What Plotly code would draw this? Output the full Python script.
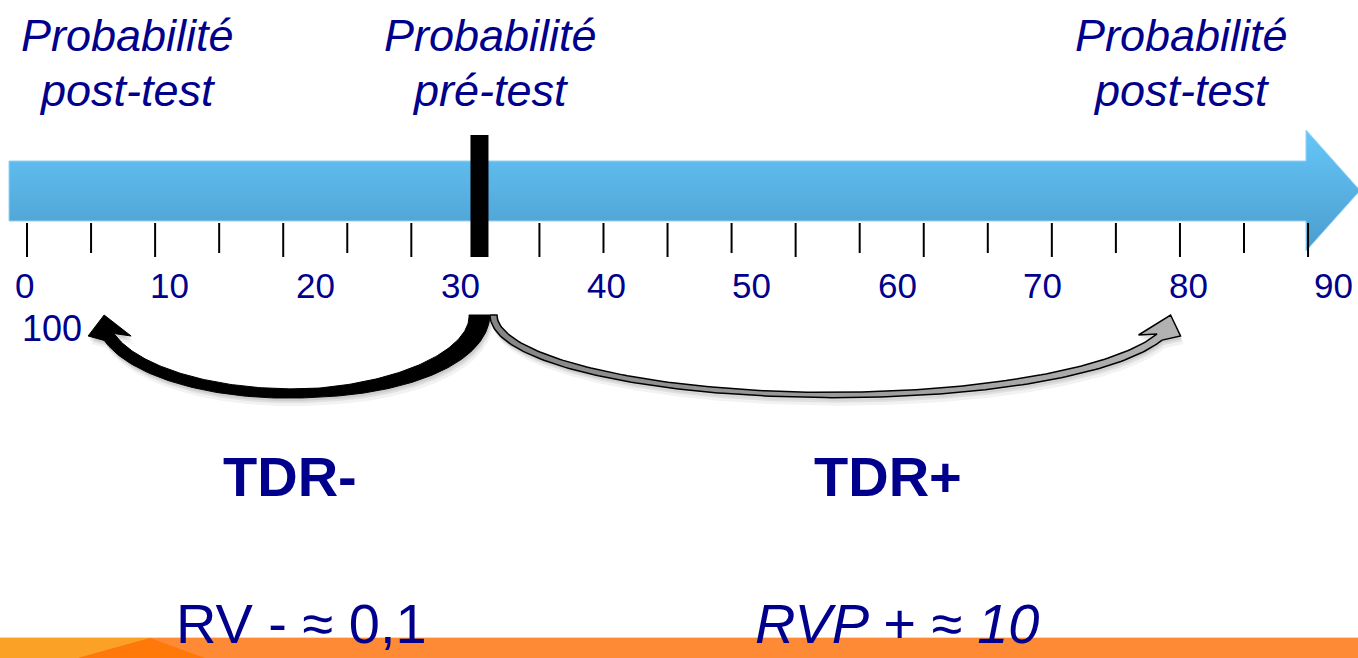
import numpy as np
import plotly.graph_objects as go

# ---------------- data ----------------
scale_labels = [0, 10, 20, 30, 40, 50, 60, 70, 80, 90]
extra_label = "100"
pre_test = 31.3          # pre-test probability (marker)
post_test_neg = 5.5      # post-test probability after negative test
post_test_pos = 78.8     # post-test probability after positive test
n_ticks = 21
title_line1 = ["Probabilité", "Probabilité", "Probabilité"]
title_line2 = ["post-test", "pré-test", "post-test"]
tdr_labels = ["TDR-", "TDR+"]
rv_labels = ["RV - ≈ 0,1", "<i>RVP + ≈ 10</i>"]

# ---------------- layout constants ----------------
W, H = 1358, 658
PX0, PXU = 24.1, 14.549          # axis scale: pixel = PX0 + PXU * value
NAVY = "#00008C"
FONT = "Liberation Sans, Arial, sans-serif"


def U(px):
    return (np.asarray(px, dtype=float) - PX0) / PXU


def X(u):
    return PX0 + PXU * np.asarray(u, dtype=float)


fig = go.Figure()

# big blue arrow (axis)
arrow_x = [9, 1306, 1306, 1360, 1306, 1306, 9, 9]
arrow_y = [161, 161, 130, 190.5, 251, 221, 221, 161]
fig.add_trace(go.Scatter(
    x=U(arrow_x), y=arrow_y, mode="lines", fill="toself",
    fillgradient=dict(type="vertical",
                      colorscale=[[0, "#66C6F8"], [1, "#4A9DCD"]],
                      start=130, stop=252),
    line=dict(color="#92D3F4", width=1), hoverinfo="skip", showlegend=False))

# tick marks
tick_pos = np.linspace(0.2, 88.25, n_ticks)
tx, ty = [], []
for i, t in enumerate(tick_pos):
    tx += [t, t, None]
    ty += [223, 257 if i % 2 == 0 else 253, None]
fig.add_trace(go.Scatter(x=tx, y=ty, mode="lines",
                         line=dict(color="black", width=2),
                         hoverinfo="skip", showlegend=False))


def arc_polygon(cx, rx, cy, ry, th0, th1, widths, tip, barb_out, barb_in, n=160):
    th = np.linspace(th0, th1, n)
    frac = np.linspace(0, 1, n)
    w = np.interp(frac, [0, 0.5, 1], widths)
    cxl = cx + rx * np.cos(th)
    cyl = cy + ry * np.sin(th)
    nx = ry * np.cos(th)
    ny = rx * np.sin(th)
    nn = np.hypot(nx, ny)
    nx, ny = nx / nn, ny / nn
    ox, oy = cxl + nx * w / 2, cyl + ny * w / 2
    ix, iy = cxl - nx * w / 2, cyl - ny * w / 2
    xs = np.concatenate([ox, [barb_out[0], tip[0], barb_in[0]], ix[::-1], [ox[0]]])
    ys = np.concatenate([oy, [barb_out[1], tip[1], barb_in[1]], iy[::-1], [oy[0]]])
    return xs, ys


cy = 315.0
end_y = 337.0

# black arc (negative test)
xb0 = float(X(pre_test))
tipb = (float(X(post_test_neg)), 315.0)
ryb = 78.5
cb = np.sqrt(1 - ((end_y - cy) / ryb) ** 2)
rxb = (xb0 - (tipb[0] + 5)) / (1 + cb)
cxb = xb0 - rxb
thb1 = np.pi - np.arcsin((end_y - cy) / ryb)
bx, by = arc_polygon(cxb, rxb, cy, ryb, 0.0, thb1, [21, 9, 12], tipb,
                     (tipb[0] - 16, 336), (tipb[0] + 27, 336))

# grey arc (positive test)
xg0 = xb0 + 14
tipg = (float(X(post_test_pos)), 315.0)
ryg = 80.0
cg = np.sqrt(1 - ((end_y - cy) / ryg) ** 2)
rxg = ((tipg[0] - 11) - xg0) / (1 + cg)
cxg = xg0 + rxg
thg1 = np.arcsin((end_y - cy) / ryg)
gx, gy = arc_polygon(cxg, rxg, cy, ryg, np.pi, thg1, [7, 5, 8], tipg,
                     (tipg[0] + 10, 336), (tipg[0] - 32, 335))

# soft shadows
for dx, dy, a in [(3, 8, 0.05), (2, 5, 0.07), (1, 3, 0.08)]:
    for px, py in [(bx, by), (gx, gy)]:
        fig.add_trace(go.Scatter(x=U(px + dx), y=py + dy, mode="lines", fill="toself",
                                 fillcolor=f"rgba(0,0,0,{a})", line=dict(width=0),
                                 hoverinfo="skip", showlegend=False))

fig.add_trace(go.Scatter(x=U(bx), y=by, mode="lines", fill="toself",
                         fillcolor="black", line=dict(color="black", width=1),
                         hoverinfo="skip", showlegend=False))
fig.add_trace(go.Scatter(x=U(gx), y=gy, mode="lines", fill="toself",
                         fillgradient=dict(type="horizontal",
                                           colorscale=[[0, "#858585"], [1, "#B2B2B2"]],
                                           start=float(U(490)), stop=float(U(1185))),
                         line=dict(color="black", width=1.5),
                         hoverinfo="skip", showlegend=False))

shapes = []
# pre-test marker bar
half = 9 / PXU
shapes.append(dict(type="rect", xref="x", yref="y",
                   x0=pre_test - half, x1=pre_test + half, y0=135, y1=257,
                   fillcolor="black", line=dict(width=0), layer="above"))


# orange footer band
def fx(px):
    return px / W


shapes.append(dict(type="rect", xref="paper", yref="y", x0=0, x1=1, y0=638, y1=658,
                   fillcolor="#FF8A36", line=dict(width=0), layer="below"))
shapes.append(dict(type="path", xref="paper", yref="y",
                   path=f"M 0 638 L {fx(150)} 638 L {fx(78)} 658 L 0 658 Z",
                   fillcolor="#FBA126", line=dict(width=0), layer="below"))
shapes.append(dict(type="path", xref="paper", yref="y",
                   path=f"M {fx(78)} 658 L {fx(150)} 638 L {fx(205)} 658 Z",
                   fillcolor="#FF790A", line=dict(width=0), layer="below"))
shapes.append(dict(type="line", xref="paper", yref="y", x0=0, x1=1, y0=637.5, y1=637.5,
                   line=dict(color="#FFD3AE", width=1), layer="below"))

annotations = []
# scale labels
for v in scale_labels:
    annotations.append(dict(x=v, y=285, text=str(v), showarrow=False,
                            xanchor="center", yanchor="middle",
                            font=dict(family=FONT, size=35, color=NAVY)))
annotations.append(dict(x=scale_labels[0], y=328, text=extra_label, showarrow=False,
                        xanchor="left", yanchor="middle", xshift=-4,
                        font=dict(family=FONT, size=36, color=NAVY)))

# titles
title_x = [U(127), U(490), U(1181)]
for xc, l1, l2 in zip(title_x, title_line1, title_line2):
    annotations.append(dict(x=float(xc), y=35, text=f"<i>{l1}</i>", showarrow=False,
                            xanchor="center", yanchor="middle",
                            font=dict(family=FONT, size=45, color=NAVY)))
    annotations.append(dict(x=float(xc), y=90, text=f"<i>{l2}</i>", showarrow=False,
                            xanchor="center", yanchor="middle",
                            font=dict(family=FONT, size=45, color=NAVY)))

# TDR labels
for xc, t in zip([U(289.5), U(887.5)], tdr_labels):
    annotations.append(dict(x=float(xc), y=476, text=f"<b>{t}</b>", showarrow=False,
                            xanchor="center", yanchor="middle",
                            font=dict(family=FONT, size=56, color=NAVY)))

# likelihood ratio labels
for xc, t in zip([U(301), U(896.5)], rv_labels):
    annotations.append(dict(x=float(xc), y=657, text=t, showarrow=False,
                            xanchor="center", yanchor="bottom",
                            font=dict(family=FONT, size=56, color=NAVY)))

fig.update_layout(
    width=W, height=H, margin=dict(l=0, r=0, t=0, b=0, pad=0),
    paper_bgcolor="white", plot_bgcolor="white",
    xaxis=dict(range=[float(U(0)), float(U(W))], visible=False, fixedrange=True),
    yaxis=dict(range=[H, 0], visible=False, fixedrange=True),
    shapes=shapes, annotations=annotations, showlegend=False,
)

fig.write_html("out.html")
